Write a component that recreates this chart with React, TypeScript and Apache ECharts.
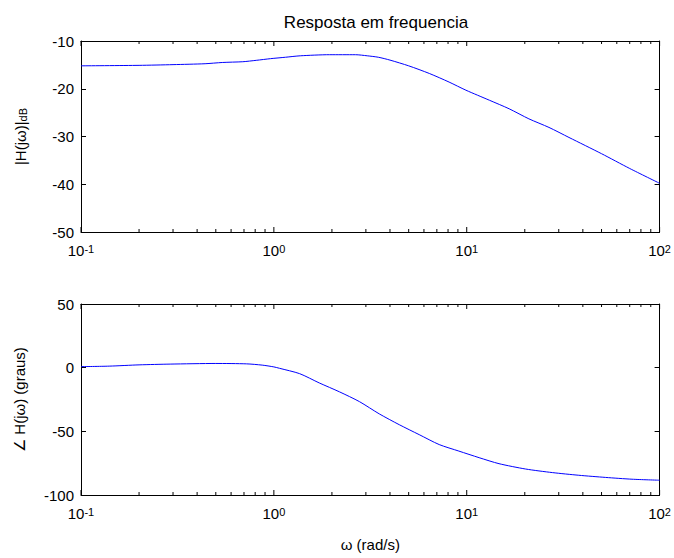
import React, { useEffect, useRef } from "react";
import * as echarts from "echarts";

const titleText = "Resposta em frequencia";
const xAxisTitle = "ω (rad/s)";
const magAxisTitle = "|H(jω)|";
const magAxisSub = "dB";
const phaseAxisTitle = "∠ H(jω) (graus)";

const majorTicks = [0.1, 1, 10, 100];
const minorTicks = [
  0.2, 0.3, 0.4, 0.5, 0.6, 0.7, 0.8, 0.9,
  2, 3, 4, 5, 6, 7, 8, 9,
  20, 30, 40, 50, 60, 70, 80, 90,
];

const magTicksDb = [-50, -40, -30, -20, -10];
const phaseTicksDeg = [-100, -50, 0, 50];

const freqMag = [
  0.1, 0.2, 0.3, 0.44, 0.54, 0.69, 0.81, 0.96, 1.15, 1.37, 1.94, 2.65, 3.05,
  3.48, 4.0, 5.0, 6.4, 8.1, 9.9, 13.1, 16.6, 21, 26.7, 33.9, 50, 70, 100,
];
const magDb = [
  -15.2, -15.1, -14.95, -14.76, -14.5, -14.34, -14.05, -13.7, -13.4, -13.1,
  -12.87, -12.87, -13.1, -13.4, -14.0, -15.2, -16.8, -18.6, -20.3, -22.4,
  -24.2, -26.3, -28.1, -30.2, -33.6, -36.7, -39.8,
];

const freqPhase = [
  0.1, 0.14, 0.2, 0.29, 0.5, 0.72, 0.87, 1.0, 1.07, 1.36, 1.72, 2.19, 2.78,
  3.52, 4.47, 5.67, 7.2, 9.1, 11.6, 14.7, 20.2, 27.8, 38.1, 52.5, 71.9, 100,
];
const phaseDeg = [
  0.8, 1.2, 2.2, 2.8, 3.3, 3.0, 2.0, 0.6, -0.5, -4.7, -12, -19, -26.7, -36.3,
  -44.8, -52.6, -60.4, -65.5, -70.7, -75.4, -79.6, -82.4, -84.5, -86.2, -87.6,
  -88.4,
];

const FONT = "Liberation Sans";
const BLACK = "#000000";
const LINE_BLUE = "#0000ff";

const GRID_LEFT = 81;
const GRID_WIDTH = 580;
const GRID_HEIGHT = 191;
const GRID_TOPS = [41, 304];

const MAJOR_LEN = 5;
const MINOR_LEN = 3;

function decadeLabel(value: number): string {
  const exp = Math.round(Math.log10(value));
  return `{b|10}{s|${exp}}`;
}

function xAxesFor(gridIndex: number, showName: boolean) {
  const base = {
    type: "log" as const,
    logBase: 10,
    min: 0.1,
    max: 100,
    gridIndex,
    splitLine: { show: false },
    axisTick: { show: false },
  };
  return [
    {
      ...base,
      position: "bottom",
      axisLine: { show: true, onZero: false, lineStyle: { color: BLACK, width: 1 } },
      axisLabel: {
        show: true,
        customValues: majorTicks,
        formatter: decadeLabel,
        margin: 11,
        color: BLACK,
        fontFamily: FONT,
        rich: {
          b: {
            fontFamily: FONT,
            fontSize: 15,
            lineHeight: 15,
            color: BLACK,
            verticalAlign: "bottom",
            padding: [6, 0, 0, 0],
          },
          s: {
            fontFamily: FONT,
            fontSize: 11,
            lineHeight: 11,
            color: BLACK,
            verticalAlign: "top",
          },
        },
      },
      name: showName ? xAxisTitle : "",
      nameLocation: "middle",
      nameGap: 42,
      nameTextStyle: { fontFamily: FONT, fontSize: 15, color: BLACK },
    },
    {
      ...base,
      position: "top",
      axisLine: { show: true, onZero: false, lineStyle: { color: BLACK, width: 1 } },
      axisLabel: { show: false },
    },
  ];
}

function yAxesFor(
  gridIndex: number,
  ticks: number[],
  name: string,
  nameGap: number,
  rich?: any
) {
  const min = ticks[0];
  const max = ticks[ticks.length - 1];
  const interval = ticks[1] - ticks[0];
  const base = {
    type: "value" as const,
    gridIndex,
    min,
    max,
    interval,
    splitLine: { show: false },
    axisLine: { show: true, onZero: false, lineStyle: { color: BLACK, width: 1 } },
    axisTick: { show: true, inside: true, length: 5, lineStyle: { color: BLACK } },
  };
  return [
    {
      ...base,
      position: "left",
      axisLabel: {
        show: true,
        margin: 7,
        color: BLACK,
        fontFamily: FONT,
        fontSize: 15,
      },
      name,
      nameLocation: "middle",
      nameRotate: 90,
      nameGap,
      nameTextStyle: {
        fontFamily: FONT,
        fontSize: 15,
        color: BLACK,
        rich,
      },
    },
    {
      ...base,
      position: "right",
      axisLabel: { show: false },
    },
  ];
}

// Tick marks on the log x axes (major decades and minor 2..9), drawn through the axis scale.
function tickSeries(xAxisIndex: number, yAxisIndex: number, yMin: number, yMax: number) {
  const data = [
    ...majorTicks.map((f) => [f, MAJOR_LEN]),
    ...minorTicks.map((f) => [f, MINOR_LEN]),
  ];
  return {
    type: "custom",
    xAxisIndex,
    yAxisIndex,
    silent: true,
    clip: false,
    z: 5,
    data,
    renderItem: (_params: any, api: any) => {
      const f = api.value(0);
      const len = api.value(1);
      const pb = api.coord([f, yMin]);
      const pt = api.coord([f, yMax]);
      const style = { stroke: BLACK, lineWidth: 1 };
      return {
        type: "group",
        children: [
          {
            type: "line",
            shape: { x1: pb[0], y1: pb[1], x2: pb[0], y2: pb[1] - len },
            style,
          },
          {
            type: "line",
            shape: { x1: pt[0], y1: pt[1], x2: pt[0], y2: pt[1] + len },
            style,
          },
        ],
      };
    },
  };
}

export default function App() {
  const ref = useRef<HTMLDivElement>(null);

  useEffect(() => {
    if (!ref.current) return;
    const chart = echarts.init(ref.current, null, { renderer: "svg" });

    const magRich = {
      a: {
        fontFamily: FONT,
        fontSize: 15,
        lineHeight: 15,
        color: BLACK,
        verticalAlign: "top",
        padding: [0, 0, 4, 0],
      },
      sub: {
        fontFamily: FONT,
        fontSize: 11,
        lineHeight: 11,
        color: BLACK,
        verticalAlign: "bottom",
      },
    };

    const magMin = magTicksDb[0];
    const magMax = magTicksDb[magTicksDb.length - 1];
    const phMin = phaseTicksDeg[0];
    const phMax = phaseTicksDeg[phaseTicksDeg.length - 1];

    const option: any = {
      animation: false,
      backgroundColor: "#ffffff",
      textStyle: { fontFamily: FONT },
      title: {
        text: titleText,
        left: GRID_LEFT + GRID_WIDTH / 2,
        textAlign: "center",
        top: 9,
        textStyle: {
          fontFamily: FONT,
          fontSize: 17,
          fontWeight: "normal",
          color: BLACK,
        },
      },
      grid: GRID_TOPS.map((top) => ({
        left: GRID_LEFT,
        top,
        width: GRID_WIDTH,
        height: GRID_HEIGHT,
        containLabel: false,
      })),
      xAxis: [...xAxesFor(0, false), ...xAxesFor(1, true)],
      yAxis: [
        ...yAxesFor(0, magTicksDb, `{a|${magAxisTitle}}{sub|${magAxisSub}}`, 53, magRich),
        ...yAxesFor(1, phaseTicksDeg, phaseAxisTitle, 54),
      ],
      series: [
        {
          type: "line",
          xAxisIndex: 0,
          yAxisIndex: 0,
          data: freqMag.map((f, i) => [f, magDb[i]]),
          showSymbol: false,
          symbol: "none",
          smooth: 0.25,
          lineStyle: { color: LINE_BLUE, width: 1 },
          itemStyle: { color: LINE_BLUE },
        },
        {
          type: "line",
          xAxisIndex: 2,
          yAxisIndex: 2,
          data: freqPhase.map((f, i) => [f, phaseDeg[i]]),
          showSymbol: false,
          symbol: "none",
          smooth: 0.25,
          lineStyle: { color: LINE_BLUE, width: 1 },
          itemStyle: { color: LINE_BLUE },
        },
        tickSeries(0, 0, magMin, magMax),
        tickSeries(2, 2, phMin, phMax),
      ],
    };

    chart.setOption(option);
    return () => chart.dispose();
  }, []);

  return (
    <div
      ref={ref}
      style={{
        position: "fixed",
        left: 0,
        top: 0,
        width: 674,
        height: 558,
        background: "#ffffff",
      }}
    />
  );
}
